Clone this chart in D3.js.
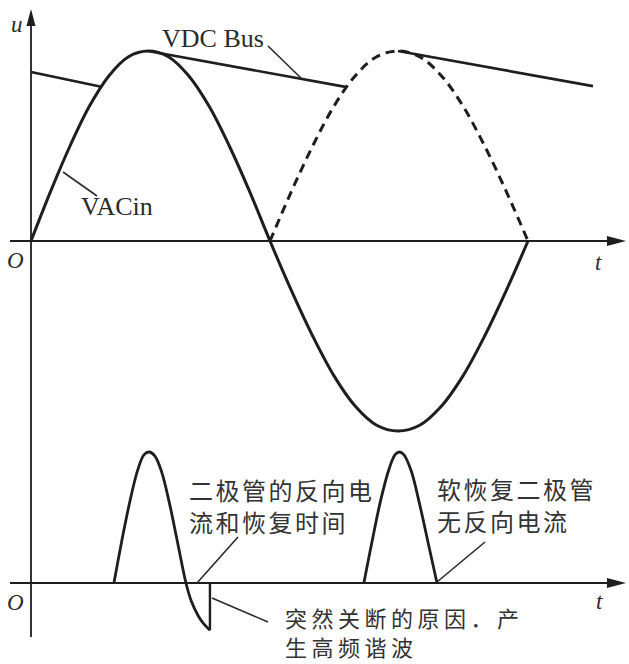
<!DOCTYPE html>
<html>
<head>
<meta charset="utf-8">
<script src="https://cdn.jsdelivr.net/npm/d3@7"></script>
<style>
  html, body { margin: 0; padding: 0; background: #fff; }
  svg { display: block; }
  .serif { font-family: "Liberation Serif", "DejaVu Serif", serif; fill: #2a2a2a; }
  .cjk { font-family: "Noto Sans CJK SC", sans-serif; fill: #333; }
</style>
</head>
<body>
<svg id="chart" width="629" height="664"></svg>
<script>
// Phase angle (degrees) sampled every 15° over one mains cycle
const phaseDeg = [0, 15, 30, 45, 60, 75, 90, 105, 120, 135, 150, 165, 180,
                  195, 210, 225, 240, 255, 270, 285, 300, 315, 330, 345, 360];
// Input AC voltage VACin (per unit of peak)
const vacIn = [0, 0.26, 0.5, 0.71, 0.87, 0.97, 1, 0.97, 0.87, 0.71, 0.5, 0.26, 0,
               -0.26, -0.5, -0.71, -0.87, -0.97, -1, -0.97, -0.87, -0.71, -0.5, -0.26, 0];

// DC bus: capacitor discharge segments between charging peaks [deg, pu]
const busSeg1 = [[0, 0.889], [54, 0.812]];
const busSeg2 = [[90, 1.0], [234, 0.81]];
const busSeg3 = [[270, 1.0], [405, 0.815]];

// Diode current pulse with reverse recovery (first half cycle) [deg, pu]
const pulseRecovery = [[63.8, 0], [70, 0.33], [76, 0.62], [82, 0.86], [87, 0.98], [91, 1.0],
                       [95, 0.97], [100, 0.85], [106, 0.6], [112, 0.3], [118, 0],
                       [122, -0.14], [127, -0.25], [131, -0.31], [135.7, -0.36], [135.7, 0]];
// Soft-recovery diode current pulse (second half cycle) [deg, pu]
const pulseSoft = [[246, 0], [252, 0.33], [258, 0.64], [264, 0.88], [268, 0.98], [271, 1.0],
                   [274, 0.98], [279, 0.86], [285, 0.6], [291, 0.3], [297, 0]];

const svg = d3.select("#chart");

// Time axis shared by both panels
const x = d3.scaleLinear().domain([0, 90, 180, 270, 360]).range([31, 148, 270, 398, 528]);
// Voltage panel
const yU = d3.scaleLinear().domain([-1, 1]).range([431, 51]);
// Current panel
const yI = d3.scaleLinear().domain([0, 1]).range([583, 452]);

const ink = "#1e1e1e";

// ---- axes ----
const axisG = svg.append("g").attr("stroke", ink).attr("fill", ink);
axisG.append("line").attr("x1", x(0)).attr("x2", x(0)).attr("y1", 22).attr("y2", 637)
  .attr("stroke-width", 1.8);
axisG.append("path").attr("stroke", "none")
  .attr("d", `M${x(0)},9 L${x(0) - 4.5},26 L${x(0) + 4.5},26 Z`);

[yU(0), yI(0)].forEach(y0 => {
  axisG.append("line").attr("x1", 10).attr("x2", 612).attr("y1", y0).attr("y2", y0)
    .attr("stroke-width", 1.8);
  axisG.append("path").attr("stroke", "none")
    .attr("d", `M626,${y0} L607,${y0 - 5} L607,${y0 + 5} Z`);
});

// axis labels
svg.append("text").attr("class", "serif").attr("x", 11).attr("y", 32)
  .style("font-size", "23px").style("font-style", "italic").text("u");
svg.append("text").attr("class", "serif").attr("x", 7).attr("y", 268)
  .style("font-size", "23px").style("font-style", "italic").text("O");
svg.append("text").attr("class", "serif").attr("x", 7).attr("y", 610)
  .style("font-size", "23px").style("font-style", "italic").text("O");
svg.append("text").attr("class", "serif").attr("x", 595).attr("y", 270)
  .style("font-size", "23px").style("font-style", "italic").text("t");
svg.append("text").attr("class", "serif").attr("x", 596).attr("y", 609)
  .style("font-size", "23px").style("font-style", "italic").text("t");

// ---- voltage waveforms ----
const vacPts = phaseDeg.map((d, i) => [d, vacIn[i]]);
const lineU = d3.line().x(d => x(d[0])).y(d => yU(d[1])).curve(d3.curveCatmullRom.alpha(0.5));

svg.append("path").datum(vacPts)
  .attr("d", lineU).attr("fill", "none").attr("stroke", ink).attr("stroke-width", 3);

// rectified second half (shown dashed)
const rectPts = vacPts.filter(d => d[0] >= 180).map(d => [d[0], Math.abs(d[1])]);
svg.append("path").datum(rectPts)
  .attr("d", lineU).attr("fill", "none").attr("stroke", ink).attr("stroke-width", 3)
  .attr("stroke-dasharray", "9,6");

const straight = d3.line().x(d => x(d[0])).y(d => yU(d[1]));
[busSeg1, busSeg2, busSeg3].forEach(seg => {
  svg.append("path").datum(seg).attr("d", straight)
    .attr("fill", "none").attr("stroke", ink).attr("stroke-width", 2.6);
});

// ---- current waveforms ----
const lineI = d3.line().x(d => x(d[0])).y(d => yI(d[1])).curve(d3.curveCatmullRom.alpha(0.5));
const lineIStraight = d3.line().x(d => x(d[0])).y(d => yI(d[1]));
svg.append("path").datum(pulseRecovery.slice(0, -1))
  .attr("d", lineI).attr("fill", "none").attr("stroke", ink).attr("stroke-width", 2.8);
svg.append("path").datum(pulseRecovery.slice(-2))
  .attr("d", lineIStraight).attr("fill", "none").attr("stroke", ink).attr("stroke-width", 2.4);
svg.append("path").datum(pulseSoft)
  .attr("d", lineI).attr("fill", "none").attr("stroke", ink).attr("stroke-width", 2.8);

// ---- annotations ----
const leaders = [
  [[268, 46], [302, 79]],
  [[63, 172], [97, 196]],
  [[197, 583], [238, 537]],
  [[437, 582], [485, 542]],
  [[212, 598], [268, 622]]
];
leaders.forEach(l => {
  svg.append("line").attr("x1", l[0][0]).attr("y1", l[0][1])
    .attr("x2", l[1][0]).attr("y2", l[1][1])
    .attr("stroke", "#2a2a2a").attr("stroke-width", 1.6);
});

svg.append("text").attr("class", "serif").attr("x", 162).attr("y", 47)
  .style("font-size", "26px").text("VDC Bus");
svg.append("text").attr("class", "serif").attr("x", 81).attr("y", 215)
  .style("font-size", "26px").text("VACin");

const cjkNotes = [
  { x: 189, y: 500, gap: 32, size: 24, spacing: 2.5, lines: ["二极管的反向电", "流和恢复时间"] },
  { x: 437, y: 499, gap: 32, size: 24, spacing: 2.5, lines: ["软恢复二极管", "无反向电流"] },
  { x: 285, y: 627, gap: 29, size: 22, spacing: 4.5, lines: ["突然关断的原因．产", "生高频谐波"] }
];
cjkNotes.forEach(n => {
  n.lines.forEach((s, i) => {
    svg.append("text").attr("class", "cjk")
      .style("font-size", n.size + "px").style("letter-spacing", n.spacing + "px")
      .attr("x", n.x).attr("y", n.y + i * n.gap).text(s);
  });
});
</script>
</body>
</html>
